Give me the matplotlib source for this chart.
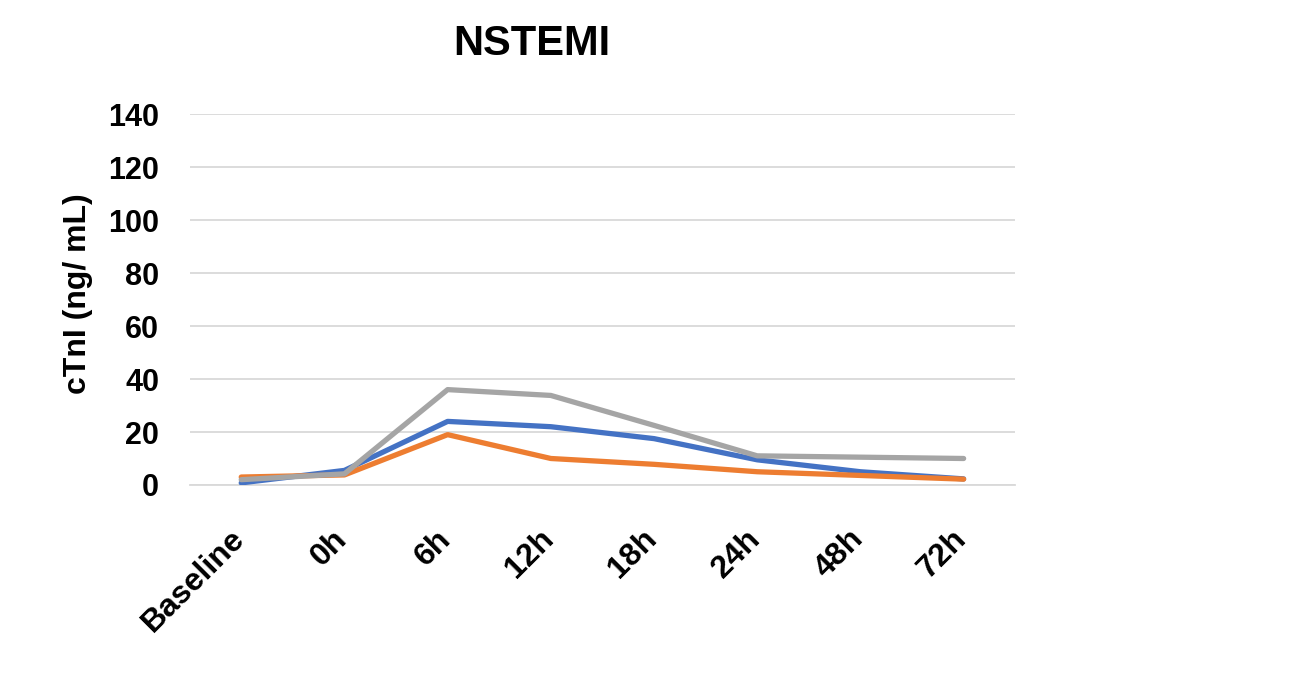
# NSTEMI cTnI time course
import matplotlib.pyplot as plt
import matplotlib.transforms as mtransforms
import numpy as np

plt.rcParams['font.family'] = ['Liberation Sans', 'DejaVu Sans']
plt.rcParams['font.weight'] = 'bold'

timepoints = ['Baseline', '0h', '6h', '12h', '18h', '24h', '48h', '72h']
blue_vals = [0.8, 5.5, 24.0, 22.0, 17.5, 9.5, 5.0, 2.3]
orange_vals = [3.0, 3.8, 19.0, 10.0, 7.8, 5.0, 3.6, 2.2]
gray_vals = [2.0, 4.2, 36.0, 33.8, 22.5, 11.0, 10.5, 10.0]

fig = plt.figure(figsize=(12.9, 6.75), dpi=100)
ax = fig.add_axes([0.147, 0.2815, 0.64, 0.5495])

x = np.arange(len(timepoints))
ax.plot(x, blue_vals, color='#4472C4', lw=3.8, solid_capstyle='round', zorder=3)
ax.plot(x, orange_vals, color='#ED7D31', lw=3.8, solid_capstyle='round', zorder=3)
ax.plot(x, gray_vals, color='#A5A5A5', lw=3.8, solid_capstyle='round', zorder=4)

ax.set_xlim(-0.5, len(timepoints) - 0.5)
ax.set_ylim(0, 140)
ax.set_yticks(np.arange(0, 141, 20))
ax.set_xticks(x)
ax.set_xticklabels(timepoints, rotation=45, ha='right', rotation_mode='anchor')
ax.grid(axis='y', color='#D9D9D9', lw=1.3)
ax.set_axisbelow(True)
for s in ['top', 'right', 'left']:
    ax.spines[s].set_visible(False)
ax.spines['bottom'].set_color('#D9D9D9')
ax.spines['bottom'].set_linewidth(1.3)
ax.tick_params(axis='both', length=0)
ax.tick_params(axis='y', pad=22, labelsize=22)
ax.tick_params(axis='x', pad=28, labelsize=23)

# nudge x labels a little left
shift = mtransforms.ScaledTranslation(-12 / 100, 0, fig.dpi_scale_trans)
for lbl in ax.get_xticklabels():
    lbl.set_transform(lbl.get_transform() + shift)

ax.set_ylabel('cTnI (ng/ mL)', fontsize=23, fontweight='bold')
ax.yaxis.set_label_coords(78 / 1290, 1 - 294 / 675, transform=fig.transFigure)
ax.yaxis.label.set_va('center')
fig.text(0.412, 0.935, 'NSTEMI', fontsize=30, fontweight='bold', ha='center', va='center')

fig.savefig('out.png', dpi=100)
